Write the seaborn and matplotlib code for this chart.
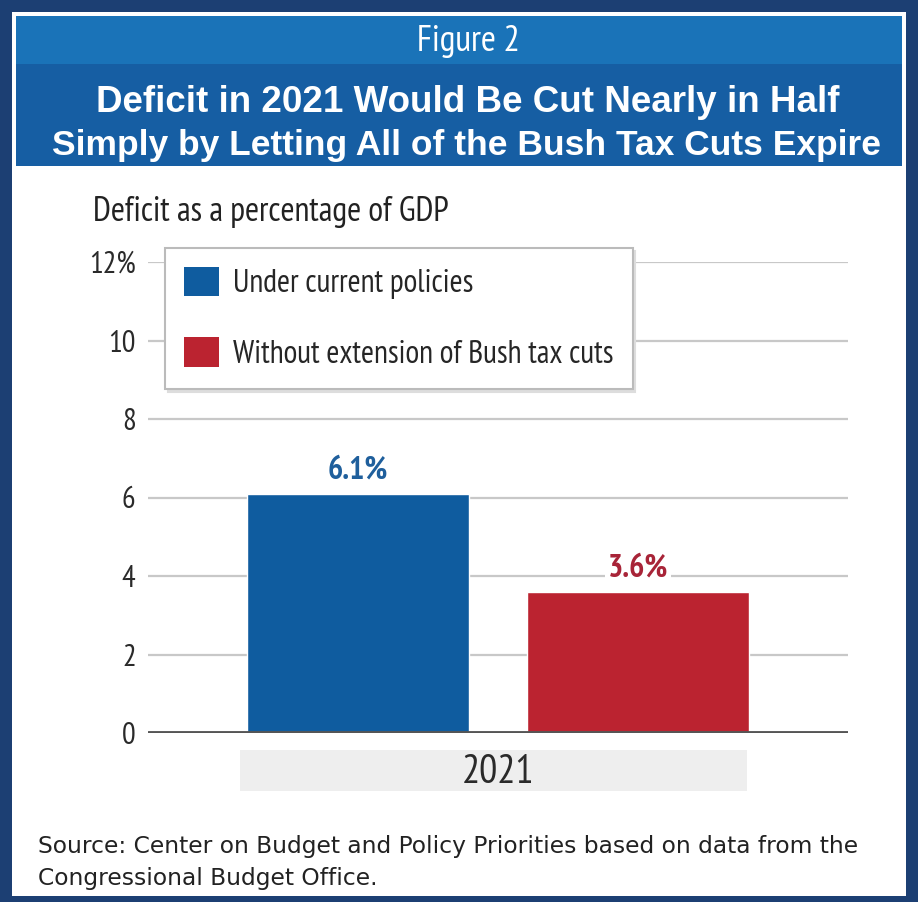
import numpy as np
import pandas as pd
import seaborn as sns
import matplotlib.pyplot as plt
from matplotlib.patches import Rectangle
from matplotlib import font_manager

# ==========================
# DATOS
# ==========================

years = ["2021"]
series = ["Under current policies", "Without extension of Bush tax cuts"]
deficit = [6.1, 3.6]
value_labels = ["6.1%", "3.6%"]
yticks = [0, 2, 4, 6, 8, 10, 12]
ytick_labels = ["0", "2", "4", "6", "8", "10", "12%"]

colors = ["#0f5c9f", "#bb2330"]
label_colors = ["#1f5f9c", "#a82438"]

df = pd.DataFrame({"year": years * len(series), "series": series, "deficit": deficit})

# fuente condensada (tipo Myriad Condensed) si existe
installed = {f.name for f in font_manager.fontManager.ttflist}
narrow = dict(family="DejaVu Sans", stretch="condensed")
for cand in ["PT Sans Narrow", "Fira Sans Condensed", "Liberation Sans Narrow"]:
    if cand in installed:
        narrow = dict(family=cand)
        break

sns.set_style("white")
plt.rcParams["font.family"] = ["Liberation Sans", "DejaVu Sans"]

W, H = 918, 902
fig = plt.figure(figsize=(W / 100, H / 100), dpi=100)
fig.patch.set_facecolor("#1c3f73")


def px_rect(x0, y0, x1, y1, color, z):
    fig.add_artist(Rectangle((x0 / W, 1 - y1 / H), (x1 - x0) / W, (y1 - y0) / H,
                             transform=fig.transFigure, facecolor=color,
                             edgecolor="none", zorder=z))


# ==========================
# MARCO Y ENCABEZADO
# ==========================

px_rect(12, 12, 906, 896, "white", z=-3)
px_rect(16, 16, 902, 64, "#1a73b8", z=-2)
px_rect(16, 64, 902, 166, "#165ea3", z=-2)

fig.text(468 / W, 1 - 42 / H, "Figure 2", color="white", fontsize=26,
         ha="center", va="center", **narrow)
fig.text(468 / W, 1 - 102 / H, "Deficit in 2021 Would Be Cut Nearly in Half",
         color="white", fontsize=26.5, fontweight="bold", ha="center", va="center")
fig.text(466 / W, 1 - 145 / H, "Simply by Letting All of the Bush Tax Cuts Expire",
         color="white", fontsize=25.5, fontweight="bold", ha="center", va="center")

fig.text(93 / W, 1 - 212 / H, "Deficit as a percentage of GDP", color="#222222",
         fontsize=24.5, ha="left", va="center", **narrow)

# ==========================
# GRÁFICA
# ==========================

ax = fig.add_axes([148 / W, 1 - 733 / H, 700 / W, 471 / H])
ax.set_facecolor("none")

sns.barplot(data=df, x="year", y="deficit", hue="series", palette=colors,
            width=0.8, gap=0.21, saturation=1, ax=ax, legend=False, zorder=3)

ax.set_xlim(-0.5, 0.5)
ax.set_ylim(0, 12)
ax.set_yticks(yticks)
ax.set_yticklabels(ytick_labels, fontsize=22, color="#2a2a2a", **narrow)
ax.tick_params(axis="y", length=0, pad=9)
for y in yticks[1:]:
    ax.axhline(y, color="#c8c8c8", lw=1.6, zorder=1)
ax.axhline(0, color="#555555", lw=3.5, zorder=4)
sns.despine(ax=ax, left=True, bottom=True, top=True, right=True)
ax.set_xlabel("")
ax.set_ylabel("")

for bar, txt, c in zip(ax.patches, value_labels, label_colors):
    ax.text(bar.get_x() + bar.get_width() / 2, bar.get_height() + 0.2, txt,
            ha="center", va="bottom", fontsize=23, fontweight="bold",
            color=c, zorder=5, bbox=dict(facecolor="white", edgecolor="none", pad=2),
            **narrow)

# banda gris de la etiqueta del eje x
px_rect(240, 750, 747, 791, "#eeeeee", z=-1)
ax.set_xticks([0])
ax.set_xticklabels(years, fontsize=29, color="#2a2a2a", **narrow)
ax.tick_params(axis="x", length=0, pad=15)

handles = [plt.Rectangle((0, 0), 1, 1, facecolor=c, edgecolor="none") for c in colors]
leg = ax.legend(handles, series, loc="upper left",
                bbox_to_anchor=(165 / W, 1 - 248 / H), bbox_transform=fig.transFigure,
                prop=dict(size=22.8, **narrow), frameon=True, fancybox=False,
                shadow={"color": "#dddddd", "alpha": 1},
                handlelength=1.1, handleheight=1.05, handletextpad=0.45,
                labelspacing=1.2, borderpad=0.6, borderaxespad=0)
leg.get_frame().set_edgecolor("#bbbbbb")
leg.get_frame().set_linewidth(1.5)
leg.set_zorder(6)

fig.text(38 / W, 1 - 846 / H,
         "Source: Center on Budget and Policy Priorities based on data from the",
         color="#222222", fontsize=16.8, family="DejaVu Sans", ha="left", va="center")
fig.text(38 / W, 1 - 879 / H, "Congressional Budget Office.",
         color="#222222", fontsize=16.8, family="DejaVu Sans", ha="left", va="center")

fig.savefig("out.png", dpi=100, facecolor=fig.get_facecolor())
